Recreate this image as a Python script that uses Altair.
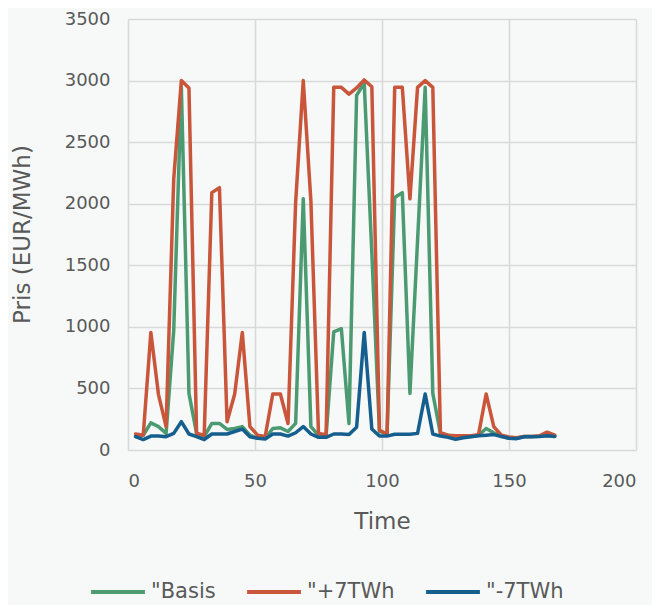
import altair as alt
import pandas as pd

time = [3, 6, 9, 12, 15, 18, 21, 24, 27, 30, 33, 36, 39, 42, 45, 48, 51, 54, 57, 60,
        63, 66, 69, 72, 75, 78, 81, 84, 87, 90, 93, 96, 99, 102, 105, 108, 111, 114, 117, 120,
        123, 126, 129, 132, 135, 138, 141, 144, 147, 150, 153, 156, 159, 162, 165, 168]

basis = [110, 120, 220, 190, 135, 970, 2950, 460, 135, 108, 216, 216, 167, 175, 190, 120, 95, 95, 175, 180,
         150, 216, 2040, 190, 120, 120, 960, 985, 215, 2880, 2980, 1600, 150, 135, 2050, 2090, 460, 1700, 2945, 460,
         135, 120, 110, 110, 110, 120, 175, 140, 115, 95, 95, 110, 110, 112, 118, 112]

plus7 = [130, 120, 955, 450, 190, 2200, 3000, 2940, 135, 120, 2090, 2130, 230, 455, 955, 190, 120, 110, 455, 455,
         215, 2010, 3000, 2025, 135, 125, 2945, 2945, 2890, 2940, 3005, 2950, 160, 130, 2945, 2945, 2040, 2945, 3000, 2945,
         140, 120, 115, 115, 115, 125, 455, 190, 120, 105, 100, 110, 110, 115, 145, 120]

minus7 = [108, 85, 113, 113, 108, 135, 230, 130, 108, 85, 130, 130, 130, 150, 170, 108, 95, 90, 130, 130,
          113, 140, 190, 130, 103, 103, 130, 130, 125, 185, 955, 170, 113, 113, 128, 128, 128, 135, 455, 130,
          113, 103, 86, 100, 108, 116, 120, 125, 110, 95, 92, 108, 108, 110, 115, 110]

series_names = ['"Basis', '"+7TWh', '"-7TWh']
colors = ["#4C9A72", "#C9553A", "#165E8E"]
x_ticks = [0, 50, 100, 150, 200]
y_ticks = [0, 500, 1000, 1500, 2000, 2500, 3000, 3500]

rows = []
for idx, (name, vals) in enumerate(zip(series_names, [basis, plus7, minus7])):
    for t, v in zip(time, vals):
        rows.append({"Time": t, "Pris": v, "Serie": name, "k": idx})
df = pd.DataFrame(rows)

FONT = "DejaVu Sans"
GREY = "#595959"

chart = alt.Chart(df).mark_line(strokeWidth=3.5, strokeJoin="round", strokeCap="round").encode(
    x=alt.X("Time:Q", scale=alt.Scale(domain=[0, 200], nice=False),
            axis=alt.Axis(values=x_ticks, title="Time", titleX=254, titleY=71, format="d",
                          titleBaseline="middle", labelPadding=22)),
    y=alt.Y("Pris:Q", scale=alt.Scale(domain=[0, 3500], nice=False),
            axis=alt.Axis(values=y_ticks, title="Pris (EUR/MWh)", titleX=-106, titleY=215, format="d",
                          titleBaseline="middle", titleAngle=-90, titleAlign="center",
                          labelPadding=18)),
    color=alt.Color("Serie:N", scale=alt.Scale(domain=series_names, range=colors),
                    legend=alt.Legend(title=None, orient="none", direction="horizontal",
                                      legendX=-39, legendY=544, symbolType="stroke",
                                      symbolSize=2900, symbolStrokeWidth=4,
                                      labelFontSize=21, labelColor=GREY, labelFont=FONT,
                                      columnPadding=23, labelOffset=4)),
    detail="k:N",
).properties(
    width=508, height=431,
    autosize=alt.AutoSizeParams(type="none"),
    padding={"left": 120, "top": 11, "right": 16, "bottom": 155},
    background="#F6F9F8",
).configure_view(
    stroke=None
).configure_axis(
    grid=True, gridColor="#D9D9D9", gridWidth=1.6, domain=False, ticks=False,
    labelFont=FONT, labelFontSize=18, labelColor=GREY,
    titleFont=FONT, titleFontSize=23, titleColor=GREY, titleFontWeight="normal",
)

chart.save("out.html", embed_options={"renderer": "svg", "actions": False})
